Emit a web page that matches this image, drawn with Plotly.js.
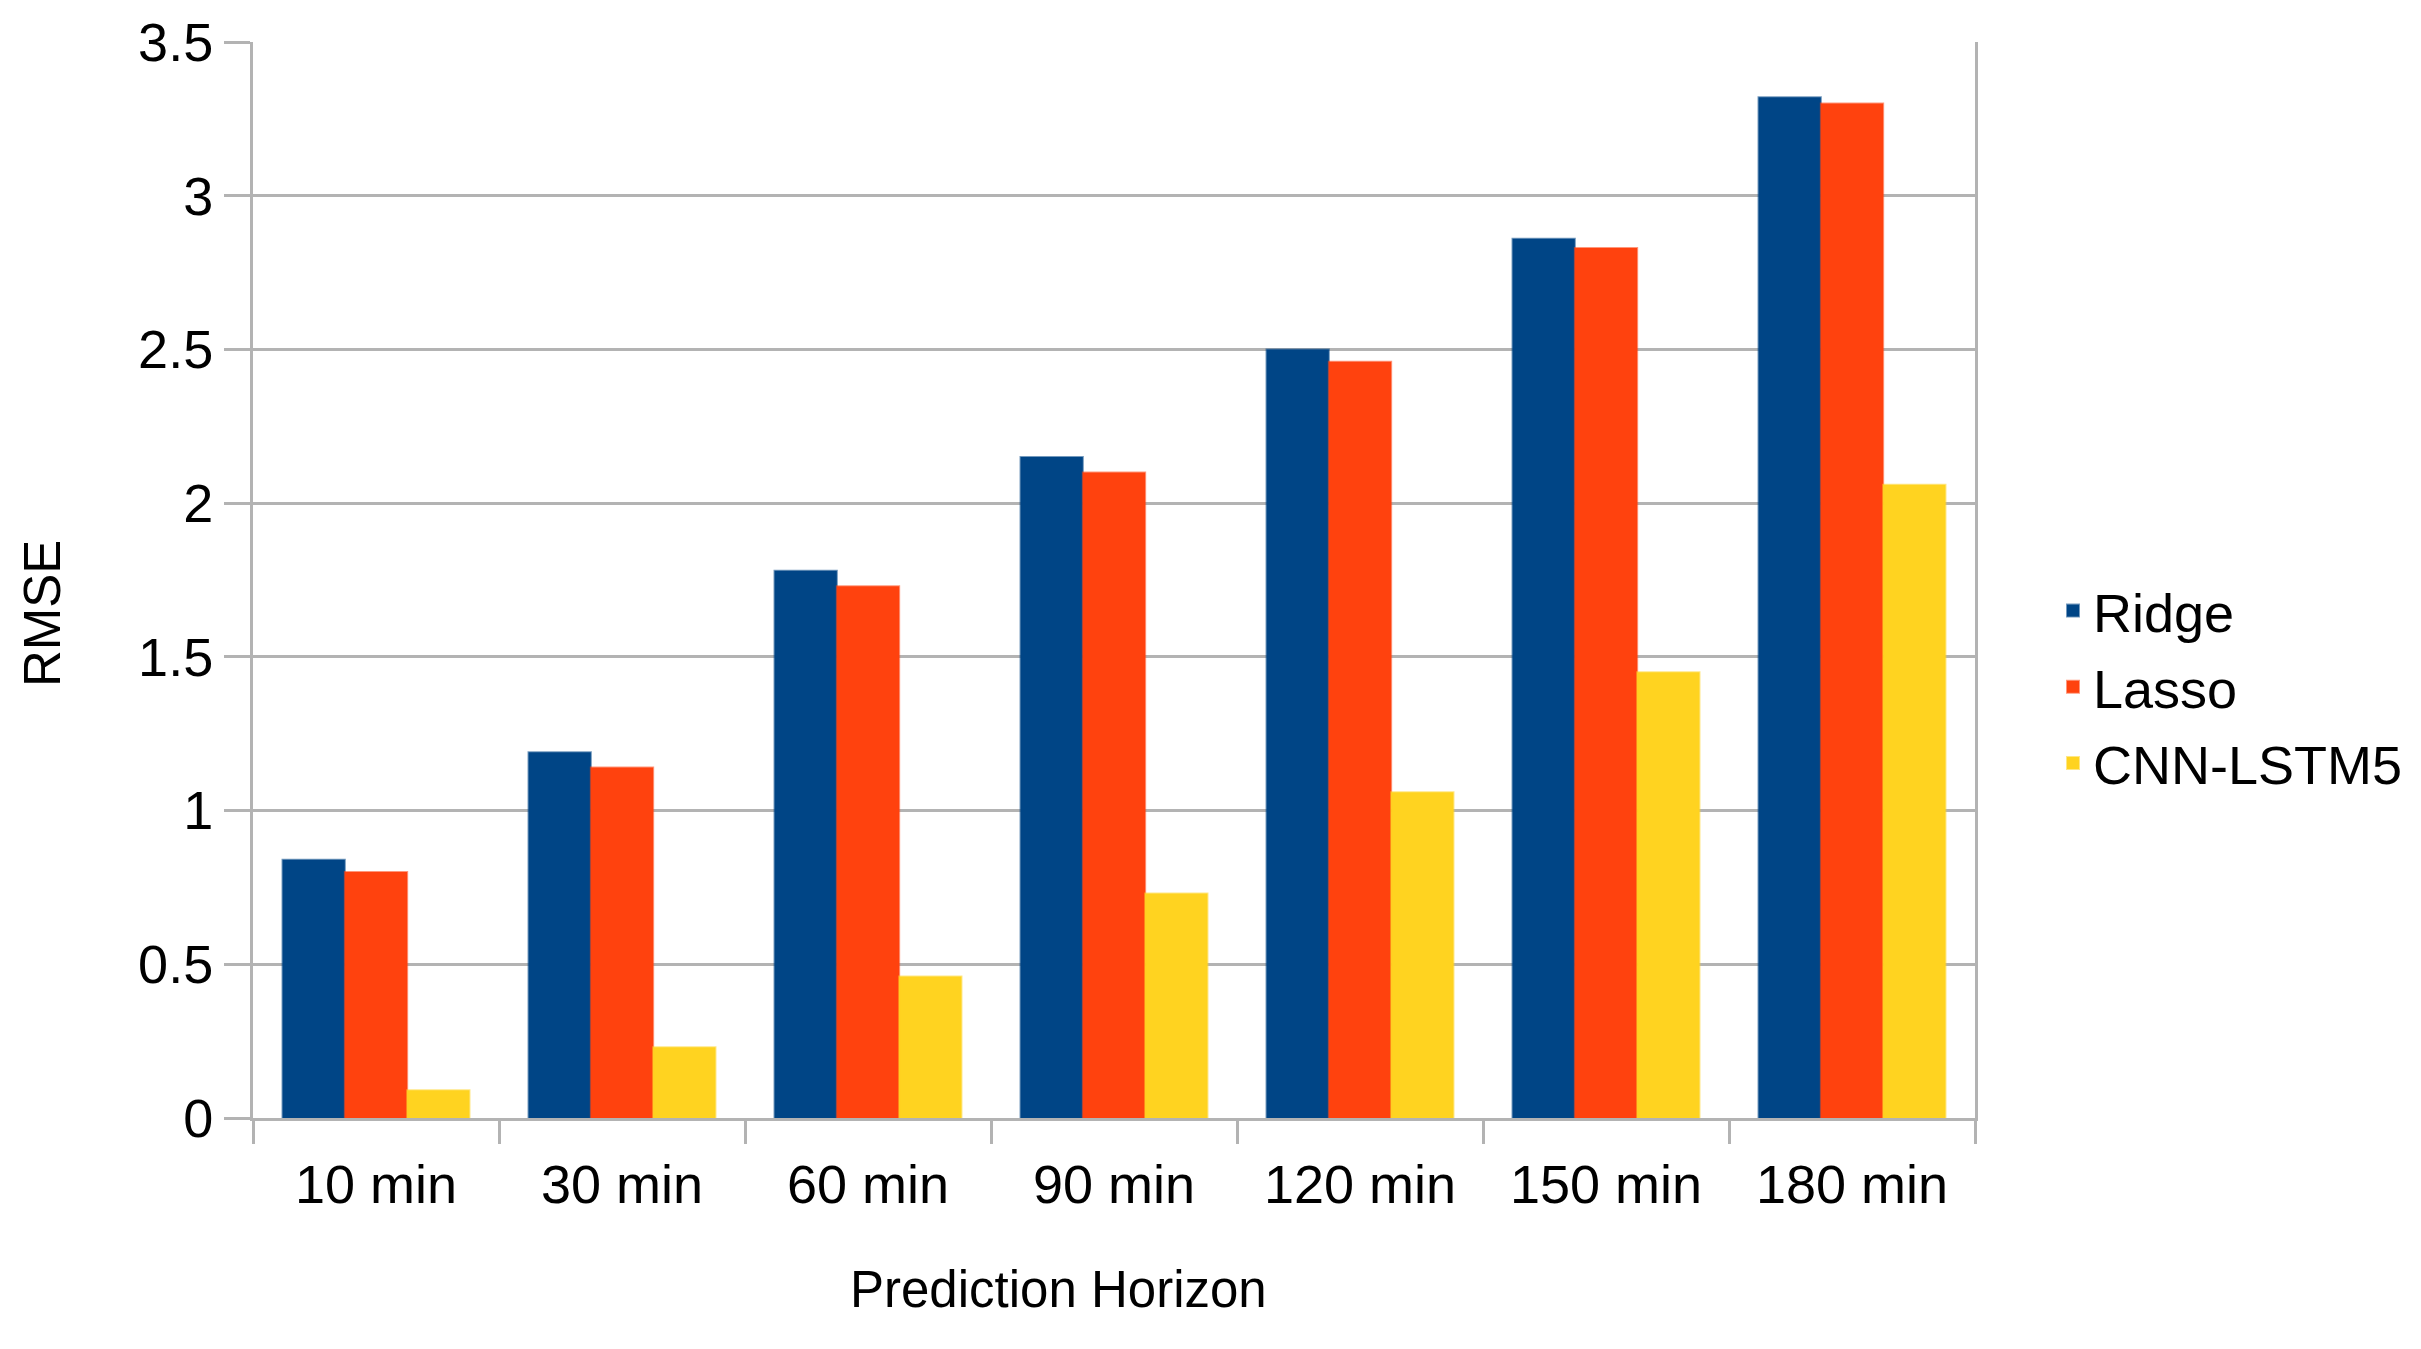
<!DOCTYPE html>
<html>
<head>
<meta charset="utf-8">
<script src="https://cdn.plot.ly/plotly-3.0.1.min.js"></script>
<style>
  html, body { margin: 0; padding: 0; background: #ffffff; }
  #chart { width: 2421px; height: 1349px; }
</style>
</head>
<body>
<div id="chart"></div>
<script>
const categories = ["10 min", "30 min", "60 min", "90 min", "120 min", "150 min", "180 min"];
const ridge = [0.84, 1.19, 1.78, 2.15, 2.50, 2.86, 3.32];
const lasso = [0.80, 1.14, 1.73, 2.10, 2.46, 2.83, 3.30];
const cnnLstm5 = [0.09, 0.23, 0.46, 0.73, 1.06, 1.45, 2.06];
const yTicks = [0, 0.5, 1, 1.5, 2, 2.5, 3, 3.5];
const yTickText = ["0", "0.5", "1", "1.5", "2", "2.5", "3", "3.5"];
const xTitle = "Prediction Horizon";
const yTitle = "RMSE";

const FONT = "Liberation Sans, Arial, sans-serif";
const GRID = "#b3b3b3";
const W = 2421, H = 1349;
const M = { l: 253, r: 446, t: 42, b: 231 };
const PW = W - M.l - M.r, PH = H - M.t - M.b;
const px = (x) => (x - M.l) / PW;
const py = (y) => (H - M.b - y) / PH;

function barTrace(name, values, color, edge, group) {
  return {
    type: "bar",
    name: name,
    x: categories,
    y: values,
    legendgroup: group,
    marker: { color: color, line: { color: edge, width: 2 } },
    hoverinfo: "x+y+name"
  };
}

const data = [
  barTrace("Ridge", ridge, "#004586", "rgba(0,69,134,0.55)", "g1"),
  barTrace("Lasso", lasso, "#ff420e", "rgba(255,66,14,0.55)", "g2"),
  barTrace("CNN-LSTM5", cnnLstm5, "#ffd320", "rgba(255,211,32,0.55)", "g3")
];

const layout = {
  width: W,
  height: H,
  paper_bgcolor: "#ffffff",
  plot_bgcolor: "#ffffff",
  font: { family: FONT, size: 54, color: "#000000" },
  margin: { l: M.l, r: M.r, t: M.t, b: M.b, pad: 0 },
  barmode: "group",
  bargap: 0.24,
  bargroupgap: 0,
  showlegend: true,
  legend: {
    x: px(2053), xanchor: "left",
    y: py(687), yanchor: "middle",
    font: { family: FONT, size: 54, color: "#000000" },
    traceorder: "grouped",
    tracegroupgap: 3,
    bgcolor: "rgba(0,0,0,0)",
    borderwidth: 0
  },
  annotations: [
    {
      text: xTitle, xref: "paper", yref: "paper",
      x: px(1058), y: py(1289),
      xanchor: "center", yanchor: "middle", showarrow: false,
      font: { family: FONT, size: 51, color: "#000000" }
    },
    {
      text: yTitle, xref: "paper", yref: "paper", textangle: -90,
      x: px(42), y: py(614),
      xanchor: "center", yanchor: "middle", showarrow: false,
      font: { family: FONT, size: 51, color: "#000000" }
    }
  ],
  xaxis: {
    type: "category",
    categoryorder: "array",
    categoryarray: categories,
    range: [-0.5, 6.5],
    tickson: "boundaries",
    ticks: "outside",
    ticklen: 23,
    tickwidth: 3,
    tickcolor: GRID,
    ticklabelstandoff: 17,
    showline: true,
    linecolor: GRID,
    linewidth: 3,
    showgrid: false,
    zeroline: false,
    tickfont: { family: FONT, size: 54, color: "#000000" },
    automargin: false,
    fixedrange: true
  },
  yaxis: {
    range: [0, 3.5],
    tickmode: "array",
    tickvals: yTicks,
    ticktext: yTickText,
    ticks: "outside",
    ticklen: 26,
    tickwidth: 3,
    tickcolor: GRID,
    showline: true,
    mirror: true,
    linecolor: GRID,
    linewidth: 3,
    showgrid: true,
    gridcolor: GRID,
    gridwidth: 3,
    zeroline: false,
    tickfont: { family: FONT, size: 54, color: "#000000" },
    automargin: false,
    fixedrange: true
  }
};

Plotly.newPlot("chart", data, layout, { displayModeBar: false, staticPlot: true });
</script>
</body>
</html>
